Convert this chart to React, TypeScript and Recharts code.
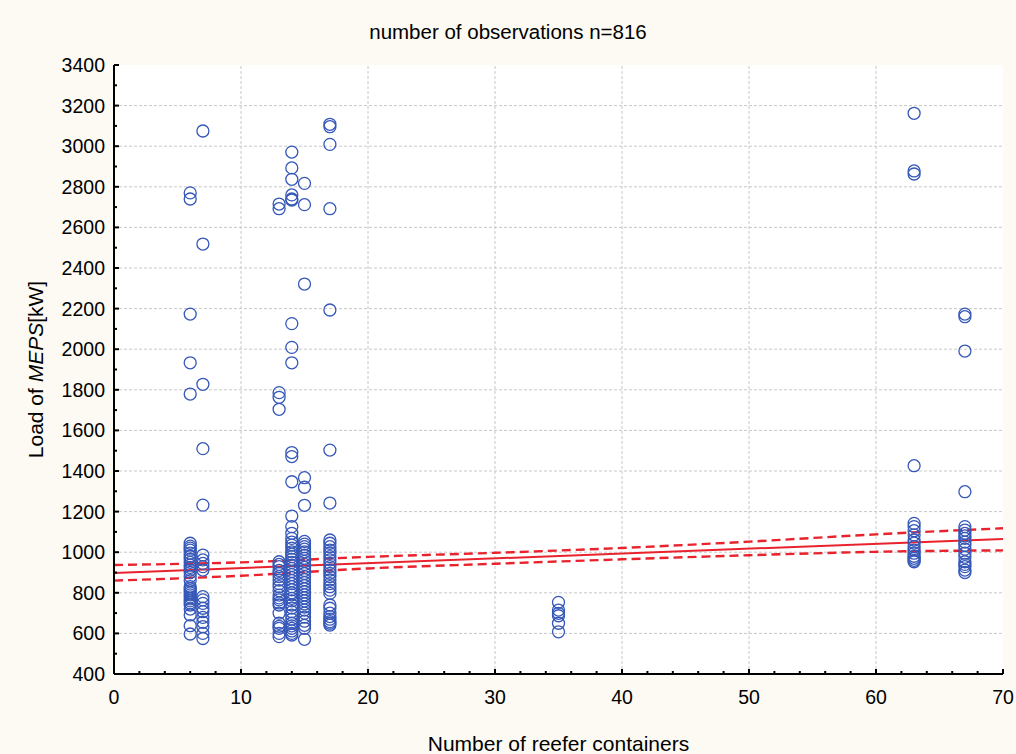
import React from 'react';
import { ComposedChart, Scatter, Line, XAxis, YAxis, ReferenceLine } from 'recharts';

// number of reefer containers on board (x) and MEPS load readings in kW (y)
const loadsAt6 = [2770, 2740, 2173, 1933, 1779, 1044, 1030, 1020, 1010, 995, 980, 965, 950, 937, 925, 912, 900, 880, 860, 830, 820, 810, 800, 790, 780, 770, 760, 750, 740, 720, 691, 638, 597];
const loadsAt7 = [3075, 2518, 1827, 1510, 1232, 986, 962, 945, 929, 912, 781, 765, 748, 724, 707, 679, 655, 633, 600, 575];
const loadsAt13 = [2715, 2692, 1786, 1763, 1704, 953, 940, 929, 910, 896, 880, 863, 845, 830, 810, 789, 775, 765, 750, 740, 700, 650, 635, 625, 600, 584];
const loadsAt14 = [2971, 2893, 2837, 2760, 2740, 2735, 2126, 2009, 1933, 1491, 1471, 1347, 1178, 1126, 1093, 1068, 1050, 1035, 1020, 1002, 990, 978, 965, 950, 935, 920, 905, 890, 875, 860, 845, 830, 815, 800, 790, 773, 760, 740, 725, 707, 690, 670, 650, 637, 625, 612, 600, 592];
const loadsAt15 = [2817, 2712, 2321, 1367, 1320, 1231, 1053, 1040, 1027, 1015, 1002, 985, 970, 955, 940, 925, 910, 895, 880, 865, 850, 835, 820, 805, 790, 775, 760, 745, 730, 715, 700, 680, 660, 640, 625, 571];
const loadsAt17 = [3108, 3096, 3009, 2692, 2193, 1503, 1242, 1060, 1044, 1027, 1010, 995, 978, 962, 945, 929, 912, 896, 880, 863, 845, 830, 813, 797, 740, 724, 700, 683, 670, 658, 650, 641];
const loadsAt35 = [753, 715, 699, 687, 650, 608];
const loadsAt63 = [3162, 2878, 2863, 1426, 1142, 1126, 1106, 1085, 1060, 1045, 1027, 1010, 995, 980, 970, 960, 953];
const loadsAt67 = [2173, 2160, 1991, 1298, 1126, 1109, 1093, 1080, 1068, 1050, 1035, 1015, 995, 975, 953, 940, 929, 912, 900];

const reeferCounts = [6, 7, 13, 14, 15, 17, 35, 63, 67];
const loadColumns = [loadsAt6, loadsAt7, loadsAt13, loadsAt14, loadsAt15, loadsAt17, loadsAt35, loadsAt63, loadsAt67];

// regression line and its confidence band
const fitX = [0, 70];
const fitLoad = [898, 1065];
const bandX = [0, 10, 20, 30, 40, 50, 60, 70];
const upperBand = [937, 950, 977, 997, 1021, 1052, 1088, 1118];
const lowerBand = [860, 884, 920, 943, 965, 985, 1002, 1009];

const xTicks = [0, 2, 4, 6, 8, 10, 12, 14, 16, 18, 20, 22, 24, 26, 28, 30, 32, 34, 36, 38, 40, 42, 44, 46, 48, 50, 52, 54, 56, 58, 60, 62, 64, 66, 68, 70];
const yTicks = [400, 500, 600, 700, 800, 900, 1000, 1100, 1200, 1300, 1400, 1500, 1600, 1700, 1800, 1900, 2000, 2100, 2200, 2300, 2400, 2500, 2600, 2700, 2800, 2900, 3000, 3100, 3200, 3300, 3400];
const gridX = [10, 20, 30, 40, 50, 60];
const gridY = [600, 800, 1000, 1200, 1400, 1600, 1800, 2000, 2200, 2400, 2600, 2800, 3000, 3200];

const points = reeferCounts.flatMap((n, i) => loadColumns[i].map((load) => ({ x: n, y: load })));
const fitData = fitX.map((x, i) => ({ x, y: fitLoad[i] }));
const upperData = bandX.map((x, i) => ({ x, y: upperBand[i] }));
const lowerData = bandX.map((x, i) => ({ x, y: lowerBand[i] }));

const FONT = '"Liberation Sans", Arial, sans-serif';
const RED = '#e8232d';
const BLUE = '#3557b8';

const BottomTick = (props: any) => {
  const { x, y, payload } = props;
  const major = payload.value % 10 === 0;
  return (
    <g>
      <line x1={x} x2={x} y1={y} y2={y - (major ? 5 : 3)} stroke="#000" strokeWidth={2} />
      {major && (
        <text x={x} y={y + 23} textAnchor="middle" dominantBaseline="central" fontSize={19.5} fontFamily={FONT} fill="#000">
          {payload.value}
        </text>
      )}
    </g>
  );
};

const TopTick = (props: any) => {
  const { x, y, payload } = props;
  const major = payload.value % 10 === 0;
  return <line x1={x} x2={x} y1={y} y2={y + (major ? 5 : 3)} stroke="#000" strokeWidth={2} />;
};

const LeftTick = (props: any) => {
  const { x, y, payload } = props;
  const major = payload.value % 200 === 0;
  return (
    <g>
      <line x1={x} x2={x + (major ? 5 : 3)} y1={y} y2={y} stroke="#000" strokeWidth={2} />
      {major && (
        <text x={x - 9} y={y} textAnchor="end" dominantBaseline="central" fontSize={19.5} fontFamily={FONT} fill="#000">
          {payload.value}
        </text>
      )}
    </g>
  );
};

const RightTick = (props: any) => {
  const { x, y, payload } = props;
  const major = payload.value % 200 === 0;
  return <line x1={x} x2={x - (major ? 5 : 3)} y1={y} y2={y} stroke="#000" strokeWidth={2} />;
};

const XLabel = (props: any) => {
  const { x, y, width } = props.viewBox;
  return (
    <text x={x + width / 2} y={y + 69} textAnchor="middle" dominantBaseline="central" fontSize={21} fontFamily={FONT} fill="#000">
      Number of reefer containers
    </text>
  );
};

const YLabel = (props: any) => {
  const { x, y, height } = props.viewBox;
  const cx = x + 35;
  const cy = y + height / 2;
  return (
    <text x={cx} y={cy} transform={`rotate(-90 ${cx} ${cy})`} textAnchor="middle" dominantBaseline="central" fontSize={21} fontFamily={FONT} fill="#000">
      Load of <tspan fontStyle="italic">MEPS</tspan>[kW]
    </text>
  );
};

const circle = (props: any) => (
  <circle cx={props.cx} cy={props.cy} r={6} fill="none" stroke={BLUE} strokeWidth={1.3} />
);

const App = () => (
  <div style={{ position: 'absolute', left: 0, top: 0, width: 1016, height: 754, background: '#fcfaf2' }}>
    <div
      style={{
        position: 'absolute',
        left: 0,
        top: 20,
        width: 1016,
        textAlign: 'center',
        fontFamily: FONT,
        fontSize: 20.5,
        lineHeight: '24px',
        color: '#000',
      }}
    >
      number of observations n=816
    </div>
    <ComposedChart width={1016} height={754} margin={{ top: 65, right: 13, bottom: 0, left: 0 }} style={{ position: 'absolute', left: 0, top: 0 }}>
      <rect x={114} y={65} width={889} height={609} fill="#fff" />
      <XAxis
        dataKey="x"
        type="number"
        domain={[0, 70]}
        ticks={xTicks}
        interval={0}
        height={80}
        tickSize={0}
        tickMargin={0}
        tickLine={false}
        tick={<BottomTick />}
        axisLine={{ stroke: '#000', strokeWidth: 2 }}
        allowDataOverflow
        label={<XLabel />}
      />
      <XAxis
        xAxisId="top"
        orientation="top"
        type="number"
        domain={[0, 70]}
        ticks={xTicks}
        interval={0}
        height={0}
        tickSize={0}
        tickMargin={0}
        tickLine={false}
        tick={<TopTick />}
        axisLine={{ stroke: '#000', strokeWidth: 2 }}
        allowDataOverflow
      />
      <YAxis
        dataKey="y"
        type="number"
        domain={[400, 3400]}
        ticks={yTicks}
        interval={0}
        width={114}
        tickSize={0}
        tickMargin={0}
        tickLine={false}
        tick={<LeftTick />}
        axisLine={{ stroke: '#000', strokeWidth: 2 }}
        allowDataOverflow
        label={<YLabel />}
      />
      <YAxis
        yAxisId="right"
        orientation="right"
        type="number"
        domain={[400, 3400]}
        ticks={yTicks}
        interval={0}
        width={0}
        tickSize={0}
        tickMargin={0}
        tickLine={false}
        tick={<RightTick />}
        axisLine={{ stroke: '#000', strokeWidth: 2 }}
        allowDataOverflow
      />
      {gridX.map((v) => (
        <ReferenceLine key={`gx${v}`} x={v} stroke="#c8c8c8" strokeDasharray="3 2" />
      ))}
      {gridY.map((v) => (
        <ReferenceLine key={`gy${v}`} y={v} stroke="#c8c8c8" strokeDasharray="3 2" />
      ))}
      <Scatter data={points} dataKey="y" shape={circle} isAnimationActive={false} />
      <Line data={upperData} dataKey="y" type="monotone" stroke={RED} strokeWidth={2.4} strokeDasharray="9 5" dot={false} isAnimationActive={false} />
      <Line data={lowerData} dataKey="y" type="monotone" stroke={RED} strokeWidth={2.4} strokeDasharray="9 5" dot={false} isAnimationActive={false} />
      <Line data={fitData} dataKey="y" type="linear" stroke={RED} strokeWidth={2} dot={false} isAnimationActive={false} />
    </ComposedChart>
  </div>
);

export default App;
